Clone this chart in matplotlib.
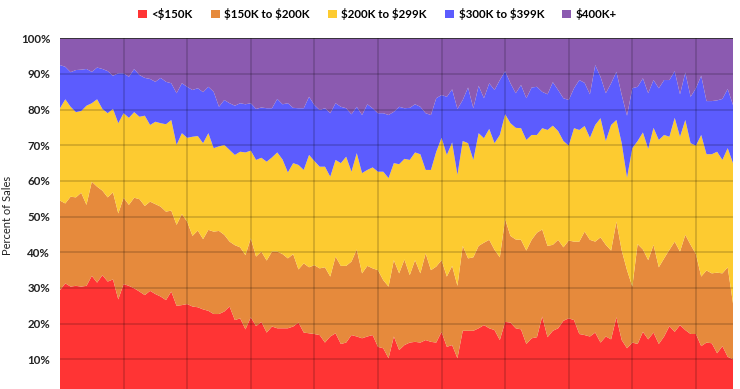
import numpy as np
import matplotlib
matplotlib.use("Agg")
import matplotlib.pyplot as plt
from matplotlib.patches import Patch
from matplotlib.ticker import FuncFormatter

plt.rcParams['font.family'] = ['Lato', 'DejaVu Sans']

categories = ["<$150K", "$150K to $200K", "$200K to $299K", "$300K to $399K", "$400K+"]
colors = ["#FF3434", "#E68A3C", "#FDCB30", "#5C5CFE", "#8B5AB0"]

under_150k = [29.4, 31.3, 30.4, 30.6, 30.4, 30.6, 33.4, 31.5, 33.6, 31.8,
              32.4, 26.8, 31.1, 30.6, 29.9, 29.0, 28.0, 29.2, 28.3, 27.6,
              26.6, 29.0, 25.0, 25.2, 25.5, 24.8, 24.6, 24.0, 23.6, 22.7,
              22.7, 23.4, 24.8, 21.0, 21.5, 18.4, 21.8, 19.3, 20.5, 17.5,
              19.2, 18.7, 18.7, 18.7, 19.2, 20.3, 17.5, 17.3, 17.1, 16.8,
              14.7, 16.4, 17.3, 14.3, 14.7, 16.8, 16.4, 15.9, 16.4, 16.8,
              13.5, 13.1, 10.3, 16.4, 12.6, 14.0, 14.7, 14.9, 14.7, 15.4,
              14.9, 14.7, 17.7, 13.5, 14.0, 10.3, 18.0, 18.0, 18.0, 18.7,
              19.6, 18.7, 18.2, 15.4, 20.5, 20.3, 18.7, 18.4, 14.3, 15.9,
              16.2, 22.0, 16.2, 18.0, 18.7, 20.8, 21.5, 21.0, 17.1, 16.8,
              16.4, 17.5, 14.7, 16.4, 15.6, 21.8, 15.4, 13.1, 14.7, 14.3,
              17.7, 15.6, 17.5, 14.3, 16.4, 19.3, 17.7, 19.6, 18.2, 17.1,
              17.1, 13.7, 14.7, 14.5, 11.7, 13.7, 10.7, 10.0]

k150_to_200 = [25.1, 22.4, 25.2, 24.8, 26.3, 22.7, 26.4, 26.9, 23.7, 23.6,
               24.4, 24.1, 24.2, 22.7, 25.4, 25.9, 25.0, 25.0, 25.2, 25.2,
               24.8, 22.7, 22.7, 25.5, 23.1, 19.8, 21.5, 19.7, 22.7, 23.1,
               23.3, 21.5, 18.2, 21.0, 19.9, 20.8, 22.1, 19.5, 19.7, 20.2,
               21.0, 21.5, 20.8, 19.6, 20.3, 14.9, 19.4, 18.5, 19.3, 18.7,
               21.1, 16.8, 21.5, 21.9, 21.5, 20.6, 24.4, 18.2, 19.8, 18.7,
               21.5, 19.1, 20.1, 21.4, 21.5, 24.0, 18.9, 22.9, 19.4, 24.3,
               20.1, 21.3, 20.1, 19.7, 22.2, 20.3, 23.8, 20.3, 20.6, 23.1,
               23.1, 24.8, 22.5, 23.2, 28.8, 24.3, 24.9, 25.1, 26.2, 27.6,
               29.3, 24.4, 25.6, 24.1, 24.8, 20.6, 21.8, 22.0, 25.9, 29.0,
               27.1, 25.5, 29.5, 25.7, 24.9, 26.8, 25.1, 21.9, 15.7, 28.0,
               23.1, 22.2, 24.6, 21.5, 21.9, 21.4, 25.3, 20.6, 26.7, 25.0,
               22.4, 19.5, 20.2, 19.6, 22.6, 20.4, 25.1, 15.7]

k200_to_299 = [25.9, 29.2, 25.2, 23.9, 22.9, 27.8, 22.0, 24.5, 22.9, 23.6,
               23.4, 25.3, 23.7, 24.4, 24.0, 23.1, 25.3, 21.5, 23.1, 23.4,
               24.5, 25.4, 22.4, 22.7, 23.5, 27.8, 26.5, 26.9, 27.1, 23.4,
               23.7, 25.2, 25.7, 25.3, 26.8, 28.8, 24.6, 27.1, 26.3, 27.7,
               26.4, 27.8, 26.5, 24.1, 25.5, 29.3, 26.2, 31.5, 29.2, 28.5,
               28.2, 28.0, 27.1, 28.8, 30.6, 25.2, 27.0, 28.1, 26.9, 28.3,
               27.6, 30.4, 30.4, 27.2, 30.6, 28.2, 32.3, 30.2, 33.4, 23.4,
               28.1, 32.2, 34.3, 34.1, 34.6, 31.1, 29.4, 32.3, 27.3, 31.6,
               29.3, 31.1, 29.9, 34.3, 29.4, 31.6, 31.3, 31.3, 31.0, 29.4,
               27.4, 28.4, 32.5, 33.4, 30.5, 29.8, 26.6, 31.8, 31.3, 29.6,
               28.6, 32.7, 33.4, 29.1, 35.2, 28.5, 30.1, 25.9, 38.8, 28.9,
               32.8, 31.2, 32.8, 35.7, 34.6, 31.7, 34.7, 32.2, 32.2, 28.5,
               30.4, 39.7, 32.6, 33.4, 33.9, 31.8, 33.4, 39.3]

k300_to_399 = [12.1, 9.1, 9.7, 11.8, 11.6, 10.3, 8.8, 8.9, 11.2, 11.8,
               9.3, 14.0, 11.2, 11.5, 12.1, 11.7, 10.6, 12.9, 11.2, 12.7,
               11.9, 10.3, 14.5, 14.0, 14.3, 13.1, 13.4, 14.3, 13.0, 15.8,
               11.1, 12.6, 13.1, 13.8, 13.6, 13.5, 13.3, 14.3, 14.1, 15.0,
               13.8, 15.0, 15.5, 19.4, 15.5, 15.9, 17.3, 16.3, 15.7, 15.9,
               16.4, 17.8, 15.9, 15.8, 13.6, 16.1, 13.0, 16.3, 18.4, 16.6,
               16.4, 16.4, 17.7, 14.4, 16.1, 14.2, 14.6, 13.5, 13.3, 15.9,
               15.4, 15.0, 12.0, 16.3, 14.9, 18.5, 11.5, 15.6, 14.5, 13.3,
               11.2, 12.8, 14.9, 15.4, 12.1, 11.2, 9.7, 12.1, 11.7, 13.3,
               13.5, 10.2, 10.0, 12.2, 11.5, 12.0, 12.8, 11.2, 14.0, 12.1,
               12.2, 16.8, 11.6, 13.4, 11.7, 13.5, 13.5, 17.4, 16.8, 15.2,
               15.2, 15.6, 13.4, 14.5, 15.4, 15.9, 13.1, 11.9, 13.3, 13.0,
               16.1, 16.6, 14.9, 14.9, 14.4, 17.1, 16.6, 16.3]

k400_plus = [7.5, 8.0, 9.5, 8.9, 8.8, 8.6, 9.4, 8.2, 8.6, 9.2,
             10.5, 9.8, 9.8, 10.8, 8.6, 10.3, 11.1, 11.4, 12.2, 11.1,
             12.2, 12.6, 15.4, 12.6, 13.6, 14.5, 14.0, 15.1, 13.6, 15.0,
             19.2, 17.3, 18.2, 18.9, 18.2, 18.5, 18.2, 19.8, 19.4, 19.6,
             19.6, 17.0, 18.5, 18.2, 19.5, 19.6, 19.6, 16.4, 18.7, 20.1,
             19.6, 21.0, 18.2, 19.2, 19.6, 21.3, 19.2, 21.5, 18.5, 19.6,
             21.0, 21.0, 21.5, 20.6, 19.2, 19.6, 19.5, 18.5, 19.2, 21.0,
             21.5, 16.8, 15.9, 16.4, 14.3, 19.8, 17.3, 13.8, 19.6, 13.3,
             16.8, 12.6, 14.5, 11.7, 9.2, 12.6, 15.4, 13.1, 16.8, 13.8,
             13.6, 15.0, 15.7, 12.3, 14.5, 16.8, 17.3, 14.0, 11.7, 12.5,
             15.7, 7.5, 10.8, 15.4, 12.6, 9.4, 15.9, 21.7, 14.0, 13.6,
             11.2, 15.4, 11.7, 14.0, 11.7, 11.7, 9.2, 15.7, 9.6, 16.4,
             14.0, 10.5, 17.6, 17.6, 17.4, 17.0, 14.2, 18.7]

series = [under_150k, k150_to_200, k200_to_299, k300_to_399, k400_plus]
y_ticks = [10, 20, 30, 40, 50, 60, 70, 80, 90, 100]
x = np.arange(len(under_150k))

fig = plt.figure(figsize=(7.40, 3.89), dpi=100)
ax = fig.add_axes([60/740, 1 - 395/389, 673/740, (395 - 38.3)/389])

ax.stackplot(x, *series, colors=colors, linewidth=0, antialiased=True)

ax.set_xlim(0, len(x) - 1)
ax.set_ylim(0, 100)

for yv in y_ticks[:-1]:
    ax.axhline(yv, color="black", alpha=0.2, lw=1.1, zorder=3)
ax.axhline(100, color="#222222", lw=1.2, zorder=3)
for xv in range(12, len(x), 12):
    ax.axvline(xv, color="black", alpha=0.2, lw=1.1, zorder=3)

for s in ax.spines.values():
    s.set_visible(False)

ax.set_yticks(y_ticks)
ax.yaxis.set_major_formatter(FuncFormatter(lambda v, p: f"{int(v)}%"))
ax.tick_params(axis="y", length=0, pad=7, labelsize=8.3, labelcolor="#222222")
for lab in ax.get_yticklabels():
    lab.set_fontweight("bold")
ax.set_xticks([])

fig.text(8/740, 1 - 215/389, "Percent of Sales", rotation=90, ha="center",
         va="center", fontsize=8, color="#222222")

handles = [Patch(facecolor=c, edgecolor="none", label=l.replace("$", r"\$"))
           for c, l in zip(colors, categories)]
fig.legend(handles=handles, loc="center", bbox_to_anchor=(0.51, 1 - 14/389), ncol=5,
           frameon=False, handlelength=0.75, handleheight=0.75, handletextpad=0.4,
           columnspacing=1.6, prop={"weight": "bold", "size": 8.3})

fig.savefig("out.png", dpi=100)
